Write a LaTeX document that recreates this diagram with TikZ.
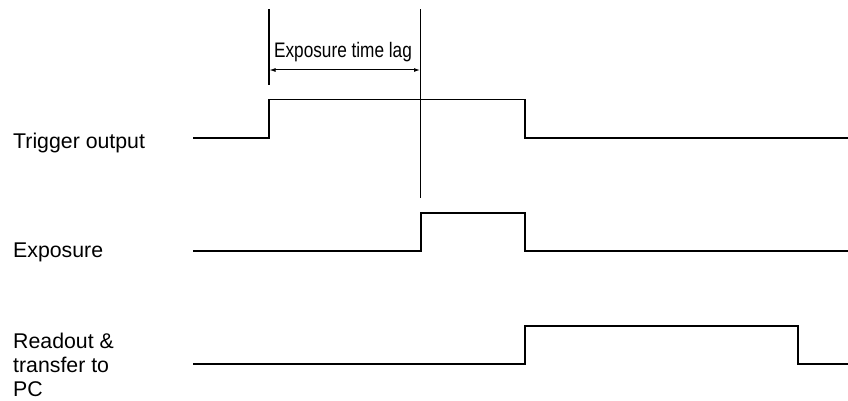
\documentclass[tikz,border=0pt]{standalone}
\usepackage{fontspec}
\setmainfont{Liberation Sans}
\newfontfamily\condfont[FakeStretch=0.82]{Liberation Sans}
\usetikzlibrary{arrows.meta}
\begin{document}
\begin{tikzpicture}[x=1pt,y=-1pt,
  wave/.style={line width=1.3pt,line join=miter},
  guide/.style={line width=1.1pt},
  lbl/.style={inner sep=0pt,anchor=base west,align=left,font=\fontsize{21.3}{24}\selectfont},
  lagarrow/.style={line width=1pt,{Latex[length=6pt,width=4pt]}-{Latex[length=6pt,width=4pt]}}]
\useasboundingbox (0,0) rectangle (848,401);
% labels
\node[lbl] (ltrig) at (13,149) {Trigger output};
\node[lbl] (lexp) at (13,257) {Exposure};
\node[lbl] (lread) at (13,396) {Readout \&\\transfer to\\PC};
% key coordinates
\coordinate (t0) at (193,138);
\coordinate (t1) at (269,138);
\coordinate (t2) at (269,99.5);
\coordinate (t3) at (525,99.5);
\coordinate (t4) at (525,138);
\coordinate (t5) at (848,138);
\coordinate (e0) at (193,251);
\coordinate (e1) at (421,251);
\coordinate (e2) at (421,213);
\coordinate (e3) at (525,213);
\coordinate (e4) at (525,251);
\coordinate (e5) at (848,251);
\coordinate (r0) at (193,364);
\coordinate (r1) at (525,364);
\coordinate (r2) at (525,326);
\coordinate (r3) at (798,326);
\coordinate (r4) at (798,364);
\coordinate (r5) at (848,364);
% waveforms
\draw[wave] (t0) -- (t1) -- (t2) -- (t3) -- (t4) -- (t5);
\draw[wave] (e0) -- (e1) -- (e2) -- (e3) -- (e4) -- (e5);
\draw[wave] (r0) -- (r1) -- (r2) -- (r3) -- (r4) -- (r5);
% guides
\coordinate (g1top) at (269,9.5);
\coordinate (g1bot) at (269,85);
\coordinate (g2top) at (420.5,9.5);
\coordinate (g2bot) at (420.5,198);
\draw[guide] (g1top) -- (g1bot);
\draw[guide] (g2top) -- (g2bot);
\coordinate (a1) at (269.5,70);
\coordinate (a2) at (420,70);
\draw[lagarrow] (a1) -- (a2);
\node[inner sep=0pt,anchor=base,font=\fontsize{21}{24}\condfont] (lag) at (343,57.3) {Exposure time lag};
\end{tikzpicture}
\end{document}
